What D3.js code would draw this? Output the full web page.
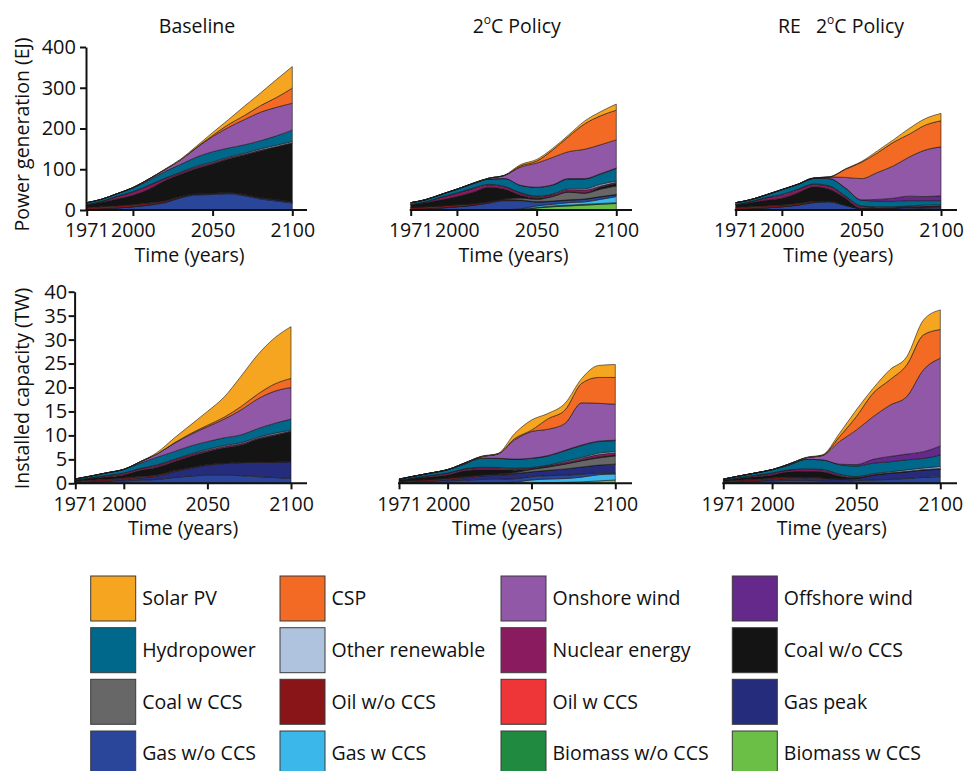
<!DOCTYPE html>
<html><head><meta charset="utf-8">
<script src="https://cdn.jsdelivr.net/npm/d3@7"></script>
<style>
html,body{margin:0;padding:0;background:#fff;}
svg{display:block;font-family:"Open Sans",sans-serif;}
</style></head><body>
<svg id="chart" width="966" height="771"></svg>
<script>
// ---------- DATA ----------
const years = [1971,1980,1990,2000,2010,2020,2030,2040,2050,2060,2070,2080,2090,2100];
const xTickValues = [1971,2000,2050,2100];
const genTicks = [0,100,200,300,400];
const capTicks = [0,5,10,15,20,25,30,35,40];

// legend order (row-major); stacking order is the reverse (bottom -> top)
const legendNames = ["Solar PV","CSP","Onshore wind","Offshore wind",
  "Hydropower","Other renewable","Nuclear energy","Coal w/o CCS",
  "Coal w CCS","Oil w/o CCS","Oil w CCS","Gas peak",
  "Gas w/o CCS","Gas w CCS","Biomass w/o CCS","Biomass w CCS"];
const legendColors = ["#F6A521","#F26A24","#9058A6","#65288B",
  "#00688A","#AFC3DE","#8A1B5E","#141414",
  "#676767","#8A1519","#EE3537","#262C7C",
  "#2A469A","#3BB8E9","#1F8A40","#6BBE46"];

const panelTitles = ["Baseline","2°C Policy","RE  2°C Policy"];
const genLabel = "Power generation (EJ)";
const capLabel = "Installed capacity (TW)";
const timeLabel = "Time (years)";

// Power generation (EJ) - Baseline
const genBaseline = {
  "Gas w/o CCS":    [2,3,5,8,12,18,30,37,38,40,35,27,22,17],
  "Gas peak":       [0,0,0,0,1,1,1,2,2,2,2,3,3,3],
  "Oil w/o CCS":    [4,5,5,5,4,3,2,1,1,1,1,0.5,0.5,0.5],
  "Coal w/o CCS":   [7,11,17,23,34,50,55,62,72,82,97,114.5,129.5,143.5],
  "Nuclear energy": [0.5,2,6,8,9,5,4,4,3,3,2,2,1,1],
  "Other renewable":[0,0,0.5,1,1,1,1,2,2,2,2,3,3,3],
  "Hydropower":     [4.5,5,6.5,9,12,16,19,22,25,22,21,20,23,28],
  "Onshore wind":   [0,0,0,1,3,5,11,23,37,51,62,70,70,66],
  "CSP":            [0,0,0,0,0,0,0,1,3,7,10,16,24,37],
  "Solar PV":       [0,0,0,0,0,1,2,3,7,12,23,31,44,53]
};
// Power generation (EJ) - 2°C Policy
const gen2C = {
  "Biomass w CCS":  [0,0,0,0,0,0,0,1,5,8,10,12,14,16],
  "Biomass w/o CCS":[0,0,0,0,0.5,1,1,1,1,2,2,2,2,2],
  "Gas w CCS":      [0,0,0,0,0,0,0,1,4,4,6,6,10,15],
  "Gas w/o CCS":    [2,3,5,8,11,16,22,20,9,7,6,6,6,4],
  "Gas peak":       [0,0,0,0,0,1,1,1,1,1,1,1,1,1],
  "Oil w/o CCS":    [4,5,5,5,4,3,2,0.5,0.5,0,0,0,0,0],
  "Coal w CCS":     [0,0,0,0,0,0,1,5,5.5,11,19,14,18,21],
  "Coal w/o CCS":   [7,10,15,20,28,35,24,7,3,1,1,1,5,6],
  "Nuclear energy": [0.5,2,6,8,9,6,6,5,4,4,5,7,3,3],
  "Other renewable":[0,0,0.5,1,1,1,1,1,1,1,2,3,4,3],
  "Hydropower":     [4.5,5,6.5,9,11,13,19,18,22,22,24,24,25,31],
  "Offshore wind":  [0,0,0,0,0,0,0,0,0,1,1,1,1,1],
  "Onshore wind":   [0,0,0,0,1,2,8,45,59,67,66,72,71,69],
  "CSP":            [0,0,0,0,0,0,0,3,5,18,37,62,71,73],
  "Solar PV":       [0,0,0,0,0,0,1,3,4,4,4,7,10,15]
};
// Power generation (EJ) - RE 2°C Policy
const genRE2C = {
  "Gas w/o CCS":    [2,3,5,8,12,18,20,11,3,2,2,3,4,5],
  "Gas peak":       [0,0,0,0,0,1,1,1,1,2,3,4,4,4],
  "Oil w/o CCS":    [4,5,5,4,4,2,1,0,0,0,0,0,0,0],
  "Coal w/o CCS":   [7,10,14,17,26,36,29,17,0,0,0,0,0,0],
  "Nuclear energy": [0.5,2,6,8,8,6,7,4,5,3,2,2,2,2],
  "Other renewable":[0,0,0.5,1,1,1,1,1,1,1,1,1,2,2],
  "Hydropower":     [4.5,5,6.5,12,12,14,18,20,14,14,13,13,11,10],
  "Offshore wind":  [0,0,0,0,0,0,0,0,1,4,8,11,10,12],
  "Onshore wind":   [0,0,0,0,0,0,4,26,52,66,79,96,114,120],
  "CSP":            [0,0,0,0,0,0,0,20,40,48,58,56,61,64],
  "Solar PV":       [0,0,0,0,0,0,0,1,2,5,6,14,16,18]
};
// Installed capacity (TW) - Baseline
const capBaseline = {
  "Gas w/o CCS":    [0.15,0.25,0.35,0.5,0.65,0.8,1.2,1.5,1.7,1.7,1.6,1.4,1.2,1.0],
  "Gas peak":       [0.05,0.1,0.15,0.3,0.45,0.7,1.2,1.6,2.1,2.4,2.7,3.0,3.2,3.5],
  "Oil w/o CCS":    [0.2,0.3,0.3,0.3,0.3,0.25,0.2,0.15,0.1,0.1,0.05,0.05,0.05,0.05],
  "Coal w/o CCS":   [0.25,0.4,0.55,0.65,1.3,1.6,1.9,2.4,2.7,3.2,3.65,4.75,5.55,6.25],
  "Nuclear energy": [0.02,0.1,0.3,0.35,0.37,0.4,0.4,0.35,0.3,0.3,0.25,0.2,0.2,0.1],
  "Other renewable":[0,0,0,0.05,0.05,0.1,0.1,0.15,0.2,0.2,0.2,0.2,0.25,0.2],
  "Hydropower":     [0.25,0.35,0.55,0.75,1.1,1.6,1.6,1.65,1.6,1.6,1.65,1.8,2.05,2.3],
  "Onshore wind":   [0,0,0,0.02,0.3,0.7,1.7,2.4,3.1,3.9,5.2,6.2,6.7,6.6],
  "CSP":            [0,0,0,0,0,0,0.1,0.2,0.3,0.4,0.7,1.0,1.5,1.9],
  "Solar PV":       [0,0,0,0,0.05,0.3,1.0,1.8,2.9,4.2,6.3,8.2,9.6,10.8]
};
// Installed capacity (TW) - 2°C Policy
const cap2C = {
  "Biomass w CCS":  [0,0,0,0,0,0,0.02,0.1,0.1,0.15,0.2,0.3,0.5,0.7],
  "Gas w CCS":      [0,0,0,0,0,0,0.05,0.15,0.6,0.75,0.8,1.0,1.3,1.25],
  "Gas w/o CCS":    [0.15,0.25,0.35,0.5,0.65,0.8,0.8,0.7,0.7,0.7,0.7,0.6,0.4,0.25],
  "Gas peak":       [0.05,0.1,0.15,0.3,0.45,0.7,0.8,1.0,1.0,1.1,1.3,1.5,1.6,1.8],
  "Oil w/o CCS":    [0.2,0.3,0.3,0.3,0.3,0.25,0.2,0.1,0,0,0,0,0,0],
  "Coal w CCS":     [0,0,0,0,0,0,0.05,0.2,0.5,0.7,1.0,1.3,1.5,1.7],
  "Coal w/o CCS":   [0.25,0.4,0.55,0.65,1.2,1.1,0.9,0.5,0.1,0.1,0.1,0.1,0.2,0.2],
  "Nuclear energy": [0.02,0.1,0.3,0.35,0.37,0.4,0.4,0.3,0.2,0.2,0.3,0.4,0.5,0.4],
  "Other renewable":[0,0,0,0.05,0.05,0.1,0.1,0.1,0.1,0.1,0.2,0.2,0.3,0.3],
  "Hydropower":     [0.2,0.35,0.5,0.7,1.0,1.9,1.9,1.9,1.9,1.9,2.2,2.5,2.4,2.3],
  "Offshore wind":  [0,0,0,0,0,0,0,0,0.05,0.1,0.1,0.1,0.1,0.1],
  "Onshore wind":   [0,0,0,0,0.2,0.3,0.9,4.0,5.55,5.5,5.6,8.8,7.9,7.5],
  "CSP":            [0,0,0,0,0,0,0,0.3,0.3,2.2,2.8,4.1,5.4,5.6],
  "Solar PV":       [0,0,0,0,0,0.1,0.1,1.05,2.1,1.1,1.4,1.0,2.5,2.7]
};
// Installed capacity (TW) - RE 2°C Policy
const capRE2C = {
  "Gas w/o CCS":    [0.15,0.25,0.35,0.5,0.6,0.6,0.5,0.4,0.55,0.7,0.8,1.0,1.25,1.4],
  "Gas peak":       [0.05,0.1,0.15,0.3,0.4,0.5,0.5,0.5,0.45,1.0,1.3,1.4,1.55,1.5],
  "Oil w/o CCS":    [0.2,0.3,0.3,0.3,0.3,0.2,0.1,0,0,0,0,0,0,0],
  "Coal w/o CCS":   [0.25,0.4,0.55,0.65,1.1,1.2,1.3,0.6,0.1,0,0,0,0,0],
  "Nuclear energy": [0.02,0.1,0.3,0.35,0.37,0.4,0.4,0.3,0.2,0.15,0.1,0.1,0.1,0.2],
  "Other renewable":[0,0,0,0.05,0.05,0.1,0.1,0.1,0.1,0.15,0.2,0.3,0.3,0.4],
  "Hydropower":     [0.2,0.35,0.5,0.7,1.0,2.0,2.0,2.0,2.2,2.2,2.1,2.1,2.0,2.4],
  "Offshore wind":  [0,0,0,0,0,0,0,0.1,0.3,0.8,1.1,1.2,1.4,1.9],
  "Onshore wind":   [0,0,0,0,0.2,0.3,0.9,4.7,7.2,8.9,10.7,12.0,17.1,18.3],
  "CSP":            [0,0,0,0,0,0,0.05,1.0,2.8,4.9,5.3,6.6,7.3,6.0],
  "Solar PV":       [0,0,0,0,0,0.1,0.1,0.7,1.4,1.0,2.1,1.7,3.1,4.1]
};

// ---------- DRAWING ----------
const svg = d3.select("#chart");
const stackOrder = legendNames.slice().reverse();
const colorScale = d3.scaleOrdinal().domain(legendNames).range(legendColors);
const FONT = '"Open Sans",sans-serif';

const panels = [
  {data: genBaseline, xr:[86.7,292.3], yr:[210,47], dom:[0,400], ticks:genTicks, yAxis:true, axEnd:307, pad:6.7},
  {data: gen2C,       xr:[410.7,616.3], yr:[210,47], dom:[0,400], ticks:genTicks, yAxis:false, axEnd:632, pad:6.7},
  {data: genRE2C,     xr:[735.7,941.0], yr:[210,47], dom:[0,400], ticks:genTicks, yAxis:false, axEnd:957, pad:6.7},
  {data: capBaseline, xr:[75.3,291.0], yr:[483.3,291.7], dom:[0,40], ticks:capTicks, yAxis:true, axEnd:307, pad:7.4},
  {data: cap2C,       xr:[399.0,615.3], yr:[483.3,291.7], dom:[0,40], ticks:capTicks, yAxis:false, axEnd:632, pad:7.4},
  {data: capRE2C,     xr:[723.3,940.3], yr:[483.3,291.7], dom:[0,40], ticks:capTicks, yAxis:false, axEnd:957, pad:7.4}
];

panels.forEach((p, pi) => {
  const x = d3.scaleLinear().domain([years[0], years[years.length-1]]).range(p.xr);
  const y = d3.scaleLinear().domain(p.dom).range(p.yr);
  const keys = stackOrder.filter(k => p.data[k]);
  const rows = years.map((yr, i) => {
    const r = {year: yr};
    keys.forEach(k => r[k] = p.data[k][i]);
    return r;
  });
  const series = d3.stack().keys(keys)(rows);
  const area = d3.area()
    .x(d => x(d.data.year))
    .y0(d => y(d[0]))
    .y1(d => y(d[1]))
    .curve(d3.curveMonotoneX);
  const g = svg.append("g");
  g.selectAll("path.layer").data(series).join("path")
    .attr("class","layer")
    .attr("d", area)
    .attr("fill", d => colorScale(d.key))
    .attr("stroke", "#1a1a1a")
    .attr("stroke-width", 0.6)
    .attr("stroke-linejoin", "round");

  // x axis
  const xAxis = d3.axisBottom(x).tickValues(xTickValues).tickFormat(d3.format("d"))
    .tickSize(6).tickPadding(p.pad).tickSizeOuter(0);
  const gx = svg.append("g").attr("transform", `translate(0,${p.yr[0]})`).call(xAxis);
  gx.select(".domain").remove();
  gx.selectAll(".tick line").attr("stroke","#111").attr("stroke-width",2);
  gx.selectAll(".tick text").attr("font-size",19.5).attr("fill","#111").attr("font-family",FONT);
  gx.append("line").attr("x1", p.xr[0]-1).attr("x2", p.axEnd)
    .attr("y1",0).attr("y2",0).attr("stroke","#111").attr("stroke-width",2);

  if (p.yAxis) {
    const yAxis = d3.axisLeft(y).tickValues(p.ticks).tickSize(6)
      .tickPadding(pi < 3 ? 4 : 1.5).tickSizeOuter(0);
    const gy = svg.append("g").attr("transform", `translate(${p.xr[0]-0.7},0)`).call(yAxis);
    gy.select(".domain").attr("stroke","#111").attr("stroke-width",2);
    gy.selectAll(".tick line").attr("stroke","#111").attr("stroke-width",2);
    gy.selectAll(".tick text").attr("font-size",20).attr("fill","#111").attr("font-family",FONT);
  }

  // x axis title
  svg.append("text").attr("x", (p.xr[0]+p.xr[1])/2).attr("y", pi < 3 ? 261.5 : 534.5)
    .attr("text-anchor","middle").attr("font-size",19.5).attr("fill","#111")
    .text(timeLabel);
});

// Panel titles
const titleX = [197, 516.7, 841];
panelTitles.forEach((t, i) => {
  const txt = svg.append("text").attr("x", titleX[i]).attr("y", 33)
    .attr("text-anchor","middle").attr("font-size",19.5).attr("fill","#111")
    .style("white-space","pre");
  const idx = t.indexOf("°");
  if (idx < 0) { txt.text(t); }
  else {
    txt.append("tspan").text(t.slice(0, idx).replace(/  /g, "\u00A0\u00A0 "));
    txt.append("tspan").attr("font-size",12).attr("dy",-9).text("o");
    txt.append("tspan").attr("dy",9).text(t.slice(idx+1));
  }
});

// Y axis titles
svg.append("text").attr("transform","translate(29,134.5) rotate(-90)")
  .attr("text-anchor","middle").attr("font-size",19.5).attr("fill","#111").text(genLabel);
svg.append("text").attr("transform","translate(29,388.5) rotate(-90)")
  .attr("text-anchor","middle").attr("font-size",19.5).attr("fill","#111").text(capLabel);

// Legend
const legX = [90.7, 280, 501, 732.3];
const legY = [576, 627.7, 679.3, 731];
const leg = svg.append("g");
legendNames.forEach((name, i) => {
  const cx = legX[i % 4], cy = legY[Math.floor(i / 4)];
  leg.append("rect").attr("x", cx).attr("y", cy).attr("width", 45).attr("height", 45)
    .attr("fill", colorScale(name)).attr("stroke", "#3a3a3a").attr("stroke-width", 1);
  leg.append("text").attr("x", cx + 51.5).attr("y", cy + 22.5).attr("dy","0.35em")
    .attr("font-size", 19.5).attr("fill","#111").text(name);
});
</script>
</body></html>
